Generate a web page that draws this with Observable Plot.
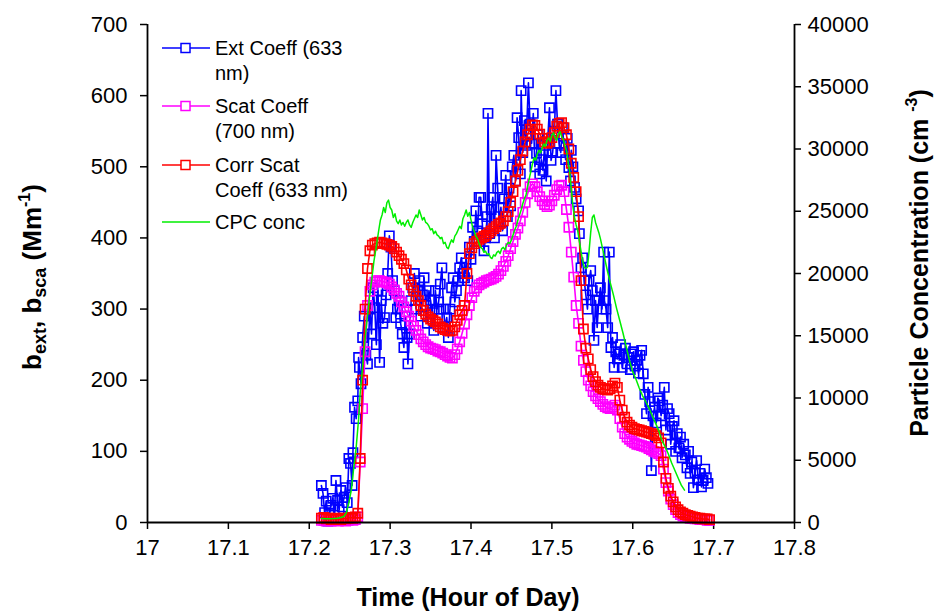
<!DOCTYPE html>
<html><head><meta charset="utf-8">
<script src="https://cdn.jsdelivr.net/npm/d3@7"></script>
<script src="https://cdn.jsdelivr.net/npm/@observablehq/plot@0.6"></script>
<style>
body{margin:0;background:#fff;} #chart{width:938px;height:615px;}
</style>
</head><body><div id="chart"></div>
<script>
// ---- data ----
const scatTime = [
17.215,17.218,17.221,17.224,17.227,17.230,17.233,17.236,17.239,17.242,
17.245,17.248,17.251,17.254,17.257,17.260,17.263,17.266,17.269,17.272,
17.275,17.278,17.281,17.284,17.287,17.290,17.293,17.296,17.299,17.302,
17.305,17.308,17.311,17.314,17.317,17.320,17.323,17.326,17.329,17.332,
17.335,17.338,17.341,17.344,17.347,17.350,17.353,17.356,17.359,17.362,
17.365,17.368,17.371,17.374,17.377,17.380,17.383,17.386,17.389,17.392,
17.395,17.398,17.401,17.404,17.407,17.410,17.413,17.416,17.419,17.422,
17.425,17.428,17.431,17.434,17.437,17.440,17.443,17.446,17.449,17.452,
17.455,17.458,17.461,17.464,17.467,17.470,17.473,17.476,17.479,17.482,
17.485,17.488,17.491,17.494,17.497,17.500,17.503,17.506,17.509,17.512,
17.515,17.518,17.521,17.524,17.527,17.530,17.533,17.536,17.539,17.542,
17.545,17.548,17.551,17.554,17.557,17.560,17.563,17.566,17.569,17.572,
17.575,17.578,17.581,17.584,17.587,17.590,17.593,17.596,17.599,17.602,
17.605,17.608,17.611,17.614,17.617,17.620,17.623,17.626,17.629,17.632,
17.635,17.638,17.641,17.644,17.647,17.650,17.653,17.656,17.659,17.662,
17.665,17.668,17.671,17.674,17.677,17.680,17.683,17.686,17.689,17.692,
17.695];
const corrScat633 = [
6,7,5,6,4,5,6,5,4,6,
5,6,7,6,8,13,90,200,300,357,
382,390,392,393,394,393,392,391,390,388,
385,380,375,370,364,355,342,334,326,318,
312,305,298,293,289,286,284,282,279,275,
273,271,270,269,270,275,284,292,298,305,
350,378,386,392,395,398,400,402,404,407,
410,413,416,419,421,424,430,437,450,465,
480,495,510,522,535,545,553,559,558,553,
546,540,535,533,535,541,548,557,561,562,
555,545,525,505,485,465,430,340,272,245,
230,215,205,198,193,190,188,187,186,188,
192,196,190,172,158,148,141,137,134,132,
131,130,129,128,127,126,125,124,122,119,
112,85,62,48,37,29,22,18,15,13,
11,10,9,8,7,6,6,5,5,5,
4];
const scat700 = [
3,3,2,3,2,3,3,2,3,3,
2,3,4,3,4,8,85,160,240,305,
325,334,338,340,340,339,338,337,335,331,
327,322,318,310,303,296,290,283,276,270,
264,258,254,250,247,245,244,243,241,240,
238,236,234,232,231,236,244,254,266,279,
292,305,316,325,330,334,336,338,340,341,
342,344,346,349,354,360,367,375,385,395,
405,414,424,436,450,462,472,476,472,465,
458,452,447,444,446,452,460,468,473,474,
465,440,415,380,345,305,280,248,228,212,
200,192,184,178,174,170,166,163,161,160,
162,165,158,146,134,125,120,117,114,112,
110,109,108,107,106,104,102,100,99,97,
94,75,56,44,33,25,18,14,11,9,
8,7,6,6,5,5,4,4,4,3,
3];
const extTime = [
17.215,17.217,17.219,17.221,17.223,17.225,17.227,17.229,17.231,17.233,
17.235,17.237,17.239,17.241,17.243,17.245,17.247,17.249,17.251,17.253,
17.254,17.256,17.258,17.260,17.261,17.262,17.264,17.266,17.268,17.270,
17.272,17.275,17.277,17.279,17.281,17.283,17.285,17.287,17.289,17.291,
17.293,17.295,17.297,17.299,17.301,17.303,17.305,17.307,17.309,17.311,
17.313,17.315,17.317,17.319,17.321,17.322,17.324,17.326,17.328,17.330,
17.332,17.334,17.336,17.338,17.340,17.342,17.344,17.346,17.348,17.350,
17.352,17.354,17.356,17.358,17.360,17.362,17.364,17.366,17.368,17.370,
17.372,17.374,17.376,17.378,17.380,17.382,17.384,17.386,17.388,17.390,
17.392,17.394,17.396,17.398,17.400,17.402,17.404,17.406,17.408,17.410,
17.412,17.414,17.416,17.418,17.420,17.421,17.423,17.425,17.427,17.429,
17.431,17.433,17.435,17.437,17.439,17.441,17.443,17.445,17.447,17.449,
17.451,17.453,17.455,17.457,17.459,17.461,17.462,17.464,17.466,17.468,
17.471,17.473,17.475,17.477,17.479,17.481,17.483,17.485,17.487,17.489,
17.491,17.493,17.495,17.497,17.499,17.501,17.503,17.505,17.507,17.509,
17.511,17.513,17.515,17.517,17.519,17.521,17.523,17.524,17.526,17.528,
17.530,17.533,17.534,17.536,17.538,17.540,17.542,17.544,17.546,17.548,
17.550,17.552,17.554,17.556,17.558,17.560,17.562,17.564,17.565,17.567,
17.569,17.571,17.573,17.575,17.577,17.579,17.581,17.583,17.585,17.587,
17.589,17.591,17.593,17.595,17.597,17.599,17.601,17.603,17.605,17.607,
17.609,17.611,17.613,17.615,17.617,17.619,17.621,17.623,17.625,17.627,
17.629,17.631,17.633,17.635,17.637,17.639,17.641,17.643,17.645,17.647,
17.649,17.651,17.653,17.655,17.657,17.659,17.661,17.663,17.665,17.667,
17.669,17.671,17.673,17.675,17.677,17.679,17.681,17.683,17.685,17.687,
17.689,17.691,17.693];
const ext633 = [
52,41,14,30,2,13,24,34,10,59,
31,18,45,22,35,49,28,90,83,52,
98,162,146,171,232,218,195,260,290,235,
223,300,265,330,302,250,326,225,312,280,
288,320,350,403,387,340,326,288,300,312,
280,265,246,290,260,223,265,312,330,350,
300,325,340,290,320,344,305,280,326,312,
295,270,326,300,310,335,358,300,275,288,
260,300,330,344,310,326,340,358,372,350,
344,365,340,387,370,415,395,438,410,457,
457,420,382,400,430,575,406,440,457,400,
516,470,420,443,410,455,488,430,470,445,
500,516,480,569,541,490,607,520,565,530,
618,560,533,575,500,519,545,490,510,495,
530,480,540,583,509,520,550,607,560,533,
520,555,530,510,540,499,480,523,500,471,
455,438,406,358,372,340,320,300,340,354,
326,256,312,274,312,330,300,380,312,300,
274,380,246,260,218,240,230,237,250,218,
235,245,223,232,215,237,240,220,228,210,
235,242,209,180,153,190,170,73,150,162,
140,175,171,150,165,190,130,160,153,110,
135,143,100,125,105,120,91,110,95,77,
100,69,85,49,70,87,60,69,50,59,
75,63,55];
const cpcTime = [
17.215,17.220,17.225,17.230,17.235,17.240,17.243,17.246,17.249,17.252,
17.255,17.258,17.261,17.263,17.265,17.268,17.271,17.274,17.277,17.280,
17.283,17.286,17.288,17.290,17.292,17.294,17.296,17.298,17.300,17.302,
17.304,17.306,17.308,17.310,17.312,17.314,17.316,17.318,17.320,17.322,
17.324,17.326,17.328,17.330,17.332,17.334,17.336,17.338,17.340,17.342,
17.344,17.346,17.348,17.350,17.352,17.354,17.356,17.358,17.360,17.362,
17.364,17.366,17.368,17.370,17.372,17.374,17.376,17.378,17.380,17.382,
17.384,17.386,17.388,17.390,17.392,17.394,17.396,17.398,17.400,17.402,
17.404,17.406,17.408,17.410,17.412,17.414,17.416,17.418,17.420,17.422,
17.424,17.426,17.428,17.430,17.432,17.434,17.436,17.438,17.440,17.442,
17.444,17.446,17.448,17.450,17.452,17.454,17.456,17.458,17.460,17.462,
17.464,17.466,17.468,17.470,17.472,17.474,17.476,17.478,17.480,17.482,
17.484,17.486,17.488,17.490,17.492,17.494,17.496,17.498,17.500,17.502,
17.504,17.506,17.508,17.510,17.512,17.514,17.516,17.518,17.520,17.522,
17.524,17.526,17.528,17.530,17.532,17.534,17.536,17.538,17.540,17.542,
17.544,17.546,17.548,17.550,17.552,17.554,17.556,17.558,17.560,17.564,
17.568,17.572,17.576,17.580,17.584,17.588,17.592,17.596,17.600,17.604,
17.608,17.612,17.616,17.620,17.624,17.628,17.632,17.636,17.640,17.644,
17.648,17.652,17.656,17.660,17.664];
const cpcConc = [
320,300,310,320,340,420,500,800,1600,2600,
4400,6000,8300,10400,11800,14000,16000,17800,19400,21000,
22200,23500,24300,24700,25300,24900,25700,25900,25300,25100,
24500,24800,24200,24000,24300,23900,24100,23800,24100,24300,
23900,23700,24100,24400,24700,24500,25100,24700,24300,24500,
24100,24000,23800,23500,23600,23200,23400,23100,23000,22800,
22900,22400,22500,22100,22000,22400,22700,22500,23000,23200,
23500,23800,23600,24400,24700,25100,24600,24900,24300,23700,
23400,23000,22800,22400,22100,22000,21700,21800,21500,21600,
21300,21200,21500,21400,21700,21800,21600,22000,22100,21900,
22300,22500,22400,22700,23100,23500,23800,24300,24700,25100,
25600,26000,26300,27000,27600,28200,28800,29300,29100,29600,
29900,29700,30100,30400,30200,30700,30900,30600,31100,31300,
30900,30700,31200,31400,31000,30800,30300,29900,29000,28200,
26800,25400,24500,23900,23400,22600,21800,21000,20500,20400,
20500,21800,23300,24500,24700,24100,23700,23300,22800,21600,
20400,19300,18300,17200,16200,15200,14100,13000,12100,11500,
10800,10200,9700,9200,8600,8000,7400,6600,6100,5500,
4800,4200,3600,3000,2600];
const xTicks = [17,17.1,17.2,17.3,17.4,17.5,17.6,17.7,17.8];
const yTicks = [0,100,200,300,400,500,600,700];
const concTicks = [0,5000,10000,15000,20000,25000,30000,35000,40000];
const legendLabels = [["Ext Coeff (633","nm)"],["Scat Coeff","(700 nm)"],["Corr Scat","Coeff (633 nm)"],["CPC conc"]];

// ---- build ----
const FONT = "'Liberation Sans', Arial, sans-serif";
const TICKFONT = "22px";
const COLORS = {ext:"#0000ff", scat:"#ff00ff", corr:"#ff0000", cpc:"#00ee00"};
const k = 700 / 40000; // secondary axis ratio
const ext = extTime.map((t,i)=>({t, v: ext633[i]}));
const scat = scatTime.map((t,i)=>({t, v: scat700[i]}));
const corr = scatTime.map((t,i)=>({t, v: corrScat633[i]}));
const cpc = cpcTime.map((t,i)=>({t, v: cpcConc[i]*k}));

const sq = (data, color) => [
  Plot.line(data, {x:"t", y:"v", stroke:color, strokeWidth:1.6}),
  Plot.dot(data, {x:"t", y:"v", symbol:"square", r:5.2, stroke:color, fill:"none", strokeWidth:1.6})
];

const chart = Plot.plot({
  width: 938, height: 615,
  marginLeft: 147, marginRight: 144, marginTop: 24, marginBottom: 93,
  style: {fontFamily: FONT, fontSize: TICKFONT, color: "#000", background: "#fff", overflow: "visible"},
  x: {domain: [17, 17.8]},
  y: {domain: [0, 700]},
  marks: [
    Plot.axisX(xTicks, {tickSize: 7, tickPadding: 10, strokeWidth: 1.5, tickFormat: d => String(Math.round(d*10)/10), label: null}),
    Plot.axisY(yTicks, {anchor: "left", tickSize: 7, tickPadding: 13, strokeWidth: 1.5, label: null}),
    Plot.axisY(concTicks.map(c => c*k), {anchor: "right", tickSize: 6, tickPadding: 7, strokeWidth: 1.5, tickFormat: d => String(Math.round(d/k)), label: null}),
    ...sq(ext, COLORS.ext),
    ...sq(scat, COLORS.scat),
    ...sq(corr, COLORS.corr),
    Plot.line(cpc, {x:"t", y:"v", stroke:COLORS.cpc, strokeWidth:1.5}),
    Plot.ruleX([17, 17.8], {stroke:"#000", strokeWidth:1.8}),
    Plot.ruleY([0], {stroke:"#000", strokeWidth:1.8})
  ]
});
document.getElementById("chart").appendChild(chart);

// ---- enforce tick label font ----
const svg = d3.select(chart);
svg.selectAll("text").style("font-size", TICKFONT).style("font-family", FONT);
svg.selectAll("g").filter(function(){ return this.getAttribute("font-size"); }).attr("font-size", null);

// ---- legend & axis titles ----
const leg = svg.append("g").attr("font-family", FONT).style("font-size", "20px")
  .attr("fill", "#000").attr("text-anchor", "start");
const legColors = [COLORS.ext, COLORS.scat, COLORS.corr, COLORS.cpc];
const legY = [48, 106, 165, 222];
legendLabels.forEach((lines, i) => {
  const y = legY[i];
  leg.append("line").attr("x1", 162).attr("x2", 210).attr("y1", y).attr("y2", y)
     .attr("stroke", legColors[i]).attr("stroke-width", 1.5);
  if (i < 3) leg.append("rect").attr("x", 181).attr("y", y-4.5).attr("width", 9).attr("height", 9)
     .attr("fill", "#fff").attr("stroke", legColors[i]).attr("stroke-width", 1.5);
  lines.forEach((s, j) => leg.append("text").attr("x", 215).attr("y", y + j*25).attr("dy", "0.35em")
     .style("font-size", "20px").text(s));
});

const titles = svg.append("g").attr("font-family", FONT).attr("font-weight", "bold").attr("fill", "#000");
titles.append("text").attr("x", 468).attr("y", 606).attr("text-anchor", "middle").style("font-size", "25px")
  .text("Time (Hour of Day)");

const lt = titles.append("text").attr("transform", "translate(41,277) rotate(-90)")
  .attr("text-anchor", "middle").style("font-size", "26px");
lt.append("tspan").text("b");
lt.append("tspan").style("font-size", "18px").attr("dy", 5).text("ext");
lt.append("tspan").attr("dy", -5).text(", b");
lt.append("tspan").style("font-size", "18px").attr("dy", 5).text("sca");
lt.append("tspan").attr("dy", -5).text(" (Mm");
lt.append("tspan").style("font-size", "16px").attr("dy", -11).text("-1");
lt.append("tspan").attr("dy", 11).text(")");

const rt = titles.append("text").attr("transform", "translate(928,263) rotate(-90)")
  .attr("text-anchor", "middle").style("font-size", "25px");
rt.append("tspan").text("Particle Concentration (cm ");
rt.append("tspan").style("font-size", "16px").attr("dy", -11).text("-3");
rt.append("tspan").attr("dy", 11).text(")");
</script>
</body></html>
